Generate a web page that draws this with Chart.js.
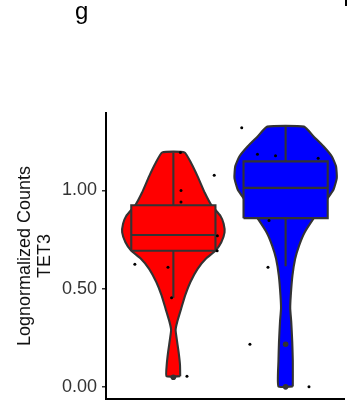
<!DOCTYPE html>
<html>
<head>
<meta charset="utf-8">
<script src="https://cdn.jsdelivr.net/npm/chart.js@4.4.1/dist/chart.umd.min.js"></script>
<style>
  html, body { margin: 0; padding: 0; background: #fff; overflow: hidden; }
  #wrap { position: relative; width: 348px; height: 403px; }
  canvas { position: absolute; left: 0; top: 0; }
  #panel { position: absolute; left: 75px; top: -1px; font: 24px 'Liberation Sans', Arial, sans-serif; line-height: 24px; color: #000; }
  #edge { position: absolute; left: 345px; top: 0; width: 2px; height: 6px; background: #000; }
</style>
</head>
<body>
<div id="wrap">
  <canvas id="chart" width="348" height="403"></canvas>
  <div id="panel">g</div>
  <div id="edge"></div>
</div>
<script>
const groupCenters = [1, 2];
const yTicks = [0, 0.5, 1];

// violin outlines, bottom to top: value and half width
const redViolinY = [0.054, 0.113, 0.180, 0.248, 0.290, 0.332, 0.399, 0.466, 0.534, 0.601, 0.652, 0.694, 0.736, 0.786, 0.830, 0.870, 0.926, 0.988, 1.072, 1.140, 1.194];
const redViolinHalf = [0.061, 0.059, 0.046, 0.029, 0.020, 0.035, 0.070, 0.105, 0.152, 0.216, 0.289, 0.377, 0.427, 0.456, 0.448, 0.420, 0.338, 0.280, 0.216, 0.158, 0.099];
const blueViolinY = [0.002, 0.130, 0.231, 0.332, 0.399, 0.466, 0.567, 0.652, 0.719, 0.786, 0.854, 0.904, 0.955, 1.005, 1.064, 1.123, 1.173, 1.224, 1.274, 1.325];
const blueViolinHalf = [0.064, 0.064, 0.059, 0.050, 0.041, 0.046, 0.061, 0.085, 0.120, 0.169, 0.245, 0.309, 0.368, 0.427, 0.456, 0.449, 0.412, 0.339, 0.251, 0.164];

// box stats: lower whisker, q1, median, q3, upper whisker
const redBox = [0.453, 0.693, 0.773, 0.925, 1.193];
const blueBox = [0.614, 0.859, 1.013, 1.148, 1.325];
const redOutliers = [0.049];
const blueOutliers = [0.217, 0.000];

// jittered raw points (offset from group centre)
const redJitterOffset = [0.063, 0.364, 0.068, 0.068, 0.392, 0.390, -0.343, -0.048, -0.016, 0.121];
const redJitterY = [1.193, 1.077, 1.000, 0.941, 0.770, 0.693, 0.624, 0.609, 0.453, 0.054];
const blueJitterOffset = [-0.391, -0.251, -0.090, 0.290, -0.148, -0.157, -0.318, 0.208];
const blueJitterY = [1.320, 1.185, 1.177, 1.164, 0.847, 0.609, 0.217, 0.000];

const outline = '#333333';
const boxHalf = 0.375;

function violinPoints(center, ys, halfs) {
  const right = ys.map((y, i) => ({ x: center + halfs[i], y }));
  const left = ys.map((y, i) => ({ x: center - halfs[i], y })).reverse();
  return [...right, ...left, right[0]];
}

function groupDatasets(center, color, vY, vHalf, box, outliers, jOff, jY) {
  const [lo, q1, med, q3, hi] = box;
  const line = { showLine: true, pointRadius: 0, borderColor: outline, borderWidth: 2.1 };
  return [
    { ...line, data: violinPoints(center, vY, vHalf), backgroundColor: color, fill: 'shape', tension: 0.15, order: 9 },
    { ...line, data: [{ x: center, y: q3 }, { x: center, y: hi }], order: 8 },
    { ...line, data: [{ x: center, y: lo }, { x: center, y: q1 }], order: 8 },
    { ...line, data: [
        { x: center - boxHalf, y: q1 }, { x: center + boxHalf, y: q1 },
        { x: center + boxHalf, y: q3 }, { x: center - boxHalf, y: q3 },
        { x: center - boxHalf, y: q1 }
      ], backgroundColor: color, fill: 'shape', order: 7 },
    { ...line, data: [{ x: center - boxHalf, y: med }, { x: center + boxHalf, y: med }], order: 6 },
    { data: outliers.map((y) => ({ x: center, y })), pointRadius: 2.8, backgroundColor: outline, borderWidth: 0, order: 5 },
    { data: jY.map((y, i) => ({ x: center + jOff[i], y })), pointRadius: 1.5, backgroundColor: '#000', borderWidth: 0, order: 4 }
  ];
}

const datasets = [
  ...groupDatasets(groupCenters[0], '#FF0000', redViolinY, redViolinHalf, redBox, redOutliers, redJitterOffset, redJitterY),
  ...groupDatasets(groupCenters[1], '#0000FF', blueViolinY, blueViolinHalf, blueBox, blueOutliers, blueJitterOffset, blueJitterY)
];

new Chart(document.getElementById('chart'), {
  type: 'scatter',
  data: { datasets },
  options: {
    responsive: false,
    animation: false,
    layout: { padding: { top: 113, right: 0, bottom: 0, left: 0 } },
    plugins: { legend: { display: false }, tooltip: { enabled: false } },
    scales: {
      x: {
        type: 'linear',
        min: 0.4,
        max: 2.52,
        ticks: { display: false },
        grid: { display: false, drawTicks: false },
        border: { display: true, color: '#000', width: 2 },
        afterFit: (s) => { s.height = 2; s.paddingLeft = 0; s.paddingRight = 0; }
      },
      y: {
        type: 'linear',
        min: -0.062,
        max: 1.3945,
        afterBuildTicks: (s) => { s.ticks = yTicks.map((v) => ({ value: v })); },
        ticks: {
          color: '#333',
          padding: 5,
          font: { family: "'Liberation Sans', Arial, sans-serif", size: 18 },
          callback: (v) => Number(v).toFixed(2)
        },
        grid: { drawOnChartArea: false, drawTicks: true, tickLength: 4, color: '#333', lineWidth: 1.5 },
        border: { display: true, color: '#000', width: 2 },
        title: {
          display: true,
          text: ['Lognormalized Counts', 'TET3'],
          color: '#111',
          font: { family: "'Liberation Sans', Arial, sans-serif", size: 18, lineHeight: 1.1 },
          padding: { top: 15, bottom: 0 }
        },
        afterFit: (s) => { s.width = 106; s.paddingTop = 0; s.paddingBottom = 0; }
      }
    }
  }
});
</script>
</body>
</html>
